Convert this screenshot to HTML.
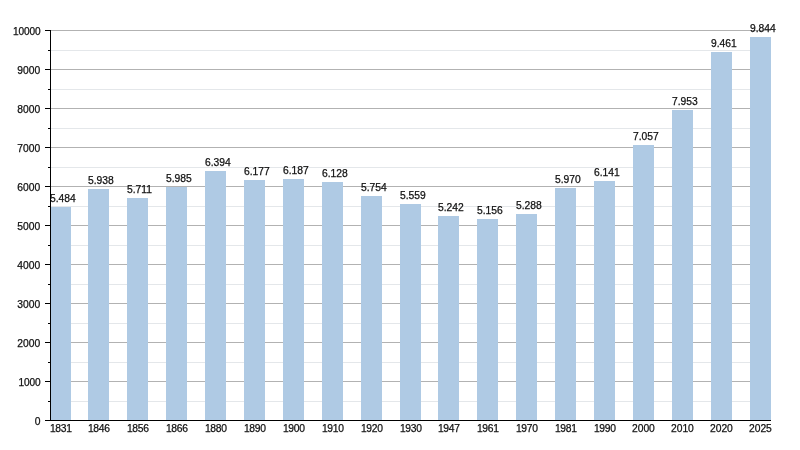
<!DOCTYPE html>
<html><head><meta charset="utf-8"><title>Chart</title>
<style>html,body{margin:0;padding:0;background:#fff;overflow:hidden}svg{display:block}text{stroke:#111;stroke-width:0.25px;font-family:"Liberation Sans",Arial,Helvetica,sans-serif;font-size:10.3px;fill:#111}</style></head><body>
<svg width="800" height="450" viewBox="0 0 800 450">
<rect width="800" height="450" fill="#fff"/>
<line x1="50.50" y1="401.50" x2="771.00" y2="401.50" stroke="#e4e7ea" stroke-width="1"/>
<line x1="50.50" y1="381.50" x2="771.00" y2="381.50" stroke="#b2b2b2" stroke-width="1"/>
<line x1="50.50" y1="362.50" x2="771.00" y2="362.50" stroke="#e4e7ea" stroke-width="1"/>
<line x1="50.50" y1="342.50" x2="771.00" y2="342.50" stroke="#b2b2b2" stroke-width="1"/>
<line x1="50.50" y1="323.50" x2="771.00" y2="323.50" stroke="#e4e7ea" stroke-width="1"/>
<line x1="50.50" y1="303.50" x2="771.00" y2="303.50" stroke="#b2b2b2" stroke-width="1"/>
<line x1="50.50" y1="284.50" x2="771.00" y2="284.50" stroke="#e4e7ea" stroke-width="1"/>
<line x1="50.50" y1="264.50" x2="771.00" y2="264.50" stroke="#b2b2b2" stroke-width="1"/>
<line x1="50.50" y1="245.50" x2="771.00" y2="245.50" stroke="#e4e7ea" stroke-width="1"/>
<line x1="50.50" y1="225.50" x2="771.00" y2="225.50" stroke="#b2b2b2" stroke-width="1"/>
<line x1="50.50" y1="206.50" x2="771.00" y2="206.50" stroke="#e4e7ea" stroke-width="1"/>
<line x1="50.50" y1="186.50" x2="771.00" y2="186.50" stroke="#b2b2b2" stroke-width="1"/>
<line x1="50.50" y1="167.50" x2="771.00" y2="167.50" stroke="#e4e7ea" stroke-width="1"/>
<line x1="50.50" y1="147.50" x2="771.00" y2="147.50" stroke="#b2b2b2" stroke-width="1"/>
<line x1="50.50" y1="128.50" x2="771.00" y2="128.50" stroke="#e4e7ea" stroke-width="1"/>
<line x1="50.50" y1="108.50" x2="771.00" y2="108.50" stroke="#b2b2b2" stroke-width="1"/>
<line x1="50.50" y1="89.50" x2="771.00" y2="89.50" stroke="#e4e7ea" stroke-width="1"/>
<line x1="50.50" y1="69.50" x2="771.00" y2="69.50" stroke="#b2b2b2" stroke-width="1"/>
<line x1="50.50" y1="50.50" x2="771.00" y2="50.50" stroke="#e4e7ea" stroke-width="1"/>
<line x1="50.50" y1="30.50" x2="771.00" y2="30.50" stroke="#b2b2b2" stroke-width="1"/>
<rect x="50.00" y="207.00" width="21.00" height="213.50" fill="#afcae4"/>
<rect x="88.00" y="189.00" width="21.00" height="231.50" fill="#afcae4"/>
<rect x="127.00" y="198.00" width="21.00" height="222.50" fill="#afcae4"/>
<rect x="166.00" y="187.00" width="21.00" height="233.50" fill="#afcae4"/>
<rect x="205.00" y="171.00" width="21.00" height="249.50" fill="#afcae4"/>
<rect x="244.00" y="180.00" width="21.00" height="240.50" fill="#afcae4"/>
<rect x="283.00" y="179.00" width="21.00" height="241.50" fill="#afcae4"/>
<rect x="322.00" y="182.00" width="21.00" height="238.50" fill="#afcae4"/>
<rect x="361.00" y="196.00" width="21.00" height="224.50" fill="#afcae4"/>
<rect x="400.00" y="204.00" width="21.00" height="216.50" fill="#afcae4"/>
<rect x="438.00" y="216.00" width="21.00" height="204.50" fill="#afcae4"/>
<rect x="477.00" y="219.00" width="21.00" height="201.50" fill="#afcae4"/>
<rect x="516.00" y="214.00" width="21.00" height="206.50" fill="#afcae4"/>
<rect x="555.00" y="188.00" width="21.00" height="232.50" fill="#afcae4"/>
<rect x="594.00" y="181.00" width="21.00" height="239.50" fill="#afcae4"/>
<rect x="633.00" y="145.00" width="21.00" height="275.50" fill="#afcae4"/>
<rect x="672.00" y="110.00" width="21.00" height="310.50" fill="#afcae4"/>
<rect x="711.00" y="52.00" width="21.00" height="368.50" fill="#afcae4"/>
<rect x="750.00" y="37.00" width="21.00" height="383.50" fill="#afcae4"/>
<text x="50.00" y="202.00">5.484</text>
<text x="88.00" y="184.00">5.938</text>
<text x="127.00" y="193.00">5.711</text>
<text x="166.00" y="182.00">5.985</text>
<text x="205.00" y="166.00">6.394</text>
<text x="244.00" y="175.00">6.177</text>
<text x="283.00" y="174.00">6.187</text>
<text x="322.00" y="177.00">6.128</text>
<text x="361.00" y="191.00">5.754</text>
<text x="400.00" y="199.00">5.559</text>
<text x="438.00" y="211.00">5.242</text>
<text x="477.00" y="214.00">5.156</text>
<text x="516.00" y="209.00">5.288</text>
<text x="555.00" y="183.00">5.970</text>
<text x="594.00" y="176.00">6.141</text>
<text x="633.00" y="140.00">7.057</text>
<text x="672.00" y="105.00">7.953</text>
<text x="711.00" y="47.00">9.461</text>
<text x="750.00" y="32.00">9.844</text>
<line x1="50.50" y1="30.00" x2="50.50" y2="421.00" stroke="#000" stroke-width="1"/>
<line x1="45.00" y1="420.50" x2="771.00" y2="420.50" stroke="#000" stroke-width="1"/>
<line x1="48.00" y1="401.50" x2="50.50" y2="401.50" stroke="#000" stroke-width="1"/>
<line x1="45.00" y1="381.50" x2="50.50" y2="381.50" stroke="#000" stroke-width="1"/>
<line x1="48.00" y1="362.50" x2="50.50" y2="362.50" stroke="#000" stroke-width="1"/>
<line x1="45.00" y1="342.50" x2="50.50" y2="342.50" stroke="#000" stroke-width="1"/>
<line x1="48.00" y1="323.50" x2="50.50" y2="323.50" stroke="#000" stroke-width="1"/>
<line x1="45.00" y1="303.50" x2="50.50" y2="303.50" stroke="#000" stroke-width="1"/>
<line x1="48.00" y1="284.50" x2="50.50" y2="284.50" stroke="#000" stroke-width="1"/>
<line x1="45.00" y1="264.50" x2="50.50" y2="264.50" stroke="#000" stroke-width="1"/>
<line x1="48.00" y1="245.50" x2="50.50" y2="245.50" stroke="#000" stroke-width="1"/>
<line x1="45.00" y1="225.50" x2="50.50" y2="225.50" stroke="#000" stroke-width="1"/>
<line x1="48.00" y1="206.50" x2="50.50" y2="206.50" stroke="#000" stroke-width="1"/>
<line x1="45.00" y1="186.50" x2="50.50" y2="186.50" stroke="#000" stroke-width="1"/>
<line x1="48.00" y1="167.50" x2="50.50" y2="167.50" stroke="#000" stroke-width="1"/>
<line x1="45.00" y1="147.50" x2="50.50" y2="147.50" stroke="#000" stroke-width="1"/>
<line x1="48.00" y1="128.50" x2="50.50" y2="128.50" stroke="#000" stroke-width="1"/>
<line x1="45.00" y1="108.50" x2="50.50" y2="108.50" stroke="#000" stroke-width="1"/>
<line x1="48.00" y1="89.50" x2="50.50" y2="89.50" stroke="#000" stroke-width="1"/>
<line x1="45.00" y1="69.50" x2="50.50" y2="69.50" stroke="#000" stroke-width="1"/>
<line x1="48.00" y1="50.50" x2="50.50" y2="50.50" stroke="#000" stroke-width="1"/>
<line x1="45.00" y1="30.50" x2="50.50" y2="30.50" stroke="#000" stroke-width="1"/>
<text x="40.6" y="424.90" text-anchor="end">0</text>
<text x="40.4" y="385.90" text-anchor="end" style="font-size:10.1px;letter-spacing:-0.12px">1000</text>
<text x="40.2" y="346.90" text-anchor="end">2000</text>
<text x="40.2" y="307.90" text-anchor="end">3000</text>
<text x="40.2" y="268.90" text-anchor="end">4000</text>
<text x="40.2" y="229.90" text-anchor="end">5000</text>
<text x="40.2" y="190.90" text-anchor="end">6000</text>
<text x="40.2" y="151.90" text-anchor="end">7000</text>
<text x="40.2" y="112.90" text-anchor="end">8000</text>
<text x="40.2" y="73.90" text-anchor="end">9000</text>
<text x="40.4" y="34.90" text-anchor="end" style="font-size:10.1px;letter-spacing:-0.12px">10000</text>
<text x="49.90" y="432.00" style="letter-spacing:-0.25px">1831</text>
<text x="87.90" y="432.00" style="letter-spacing:-0.25px">1846</text>
<text x="126.90" y="432.00" style="letter-spacing:-0.25px">1856</text>
<text x="165.90" y="432.00" style="letter-spacing:-0.25px">1866</text>
<text x="204.90" y="432.00" style="letter-spacing:-0.25px">1880</text>
<text x="243.90" y="432.00" style="letter-spacing:-0.25px">1890</text>
<text x="282.90" y="432.00" style="letter-spacing:-0.25px">1900</text>
<text x="321.90" y="432.00" style="letter-spacing:-0.25px">1910</text>
<text x="360.90" y="432.00" style="letter-spacing:-0.25px">1920</text>
<text x="399.90" y="432.00" style="letter-spacing:-0.25px">1930</text>
<text x="437.90" y="432.00" style="letter-spacing:-0.25px">1947</text>
<text x="476.90" y="432.00" style="letter-spacing:-0.25px">1961</text>
<text x="515.90" y="432.00" style="letter-spacing:-0.25px">1970</text>
<text x="554.90" y="432.00" style="letter-spacing:-0.25px">1981</text>
<text x="593.90" y="432.00" style="letter-spacing:-0.25px">1990</text>
<text x="632.00" y="432.00" style="letter-spacing:-0.03px">2000</text>
<text x="671.00" y="432.00" style="letter-spacing:-0.03px">2010</text>
<text x="710.00" y="432.00" style="letter-spacing:-0.03px">2020</text>
<text x="749.00" y="432.00" style="letter-spacing:-0.03px">2025</text>
</svg></body></html>
